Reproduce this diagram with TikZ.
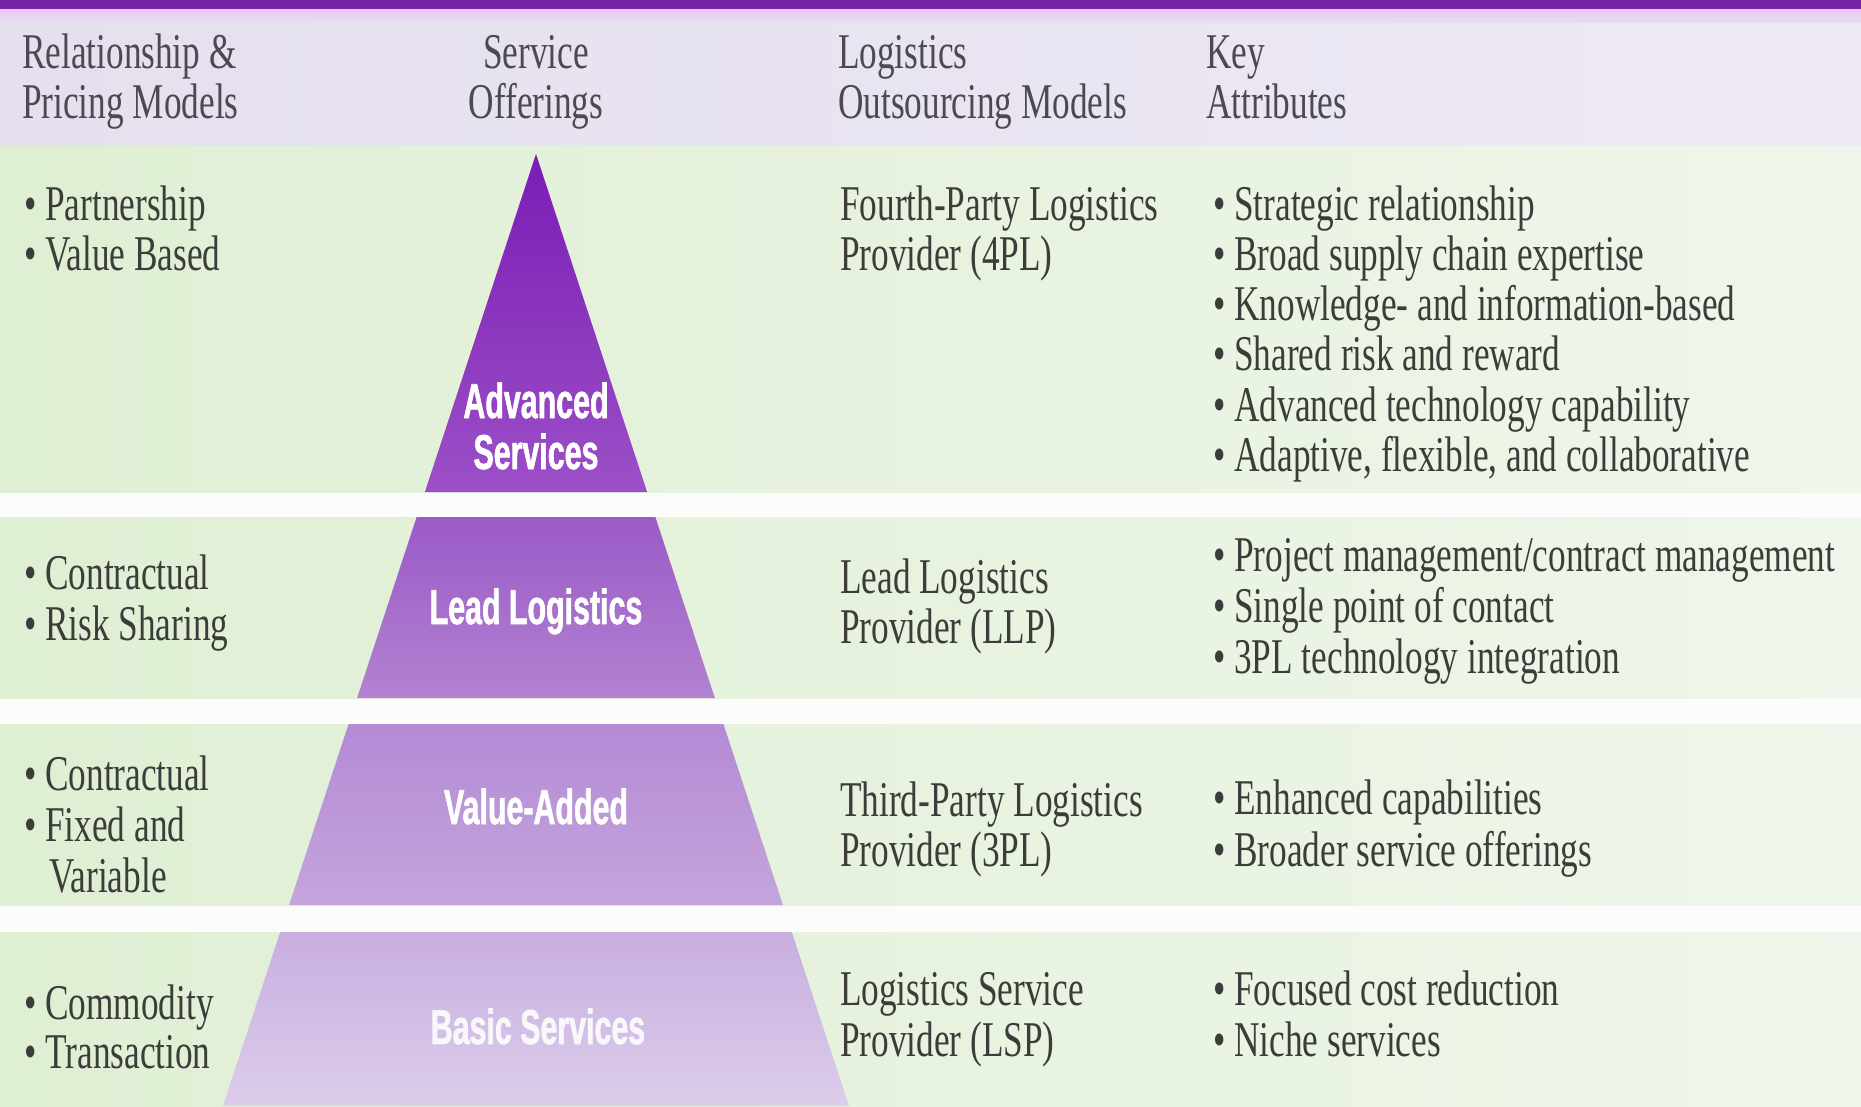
\documentclass[tikz,border=0pt]{standalone}
\usepackage{fontspec}
\setmainfont{Liberation Serif}
\newfontfamily\colfont[FakeStretch=0.705]{Liberation Serif}
\newfontfamily\tierfont[FakeStretch=0.62,FakeBold=1.2]{Liberation Sans}

\definecolor{barpurple}{HTML}{7722A8}
\definecolor{pinkline}{HTML}{EDC6F7}
\definecolor{headlav}{HTML}{E5DFEF}
\definecolor{headlavR}{HTML}{EEE9F4}
\definecolor{bandL}{HTML}{DFEFD3}
\definecolor{bandR}{HTML}{EFF6EB}
\definecolor{gapwhite}{HTML}{FCFDFA}
\definecolor{inkgray}{HTML}{3C3C3A}
\definecolor{headgray}{HTML}{4C4A50}
\definecolor{tierAtop}{HTML}{7B1CB5}
\definecolor{tierAbot}{HTML}{9C50C7}
\definecolor{tierBtop}{HTML}{9B5AC8}
\definecolor{tierBbot}{HTML}{B282D0}
\definecolor{tierCtop}{HTML}{B48AD5}
\definecolor{tierCbot}{HTML}{C4A5DB}
\definecolor{tierDtop}{HTML}{C8AEE0}
\definecolor{tierDbot}{HTML}{DCCDEA}

% one slice of the pyramid between two heights (apex at x=536, y=154)
\newcommand\pyrtier[4]{%
  \shade[top color=#3, bottom color=#4]
    ({536-0.3288*(#1-154)},#1) -- ({536+0.3288*(#1-154)},#1) --
    ({536+0.3288*(#2-154)},#2) -- ({536-0.3288*(#2-154)},#2) -- cycle;}

\begin{document}
\begin{tikzpicture}[x=1pt,y=-1pt,
  txt/.style={font=\colfont\fontsize{50}{50}\selectfont, text=inkgray,
    inner sep=0pt, anchor=base west},
  headtxt/.style={txt, text=headgray},
  tierlbl/.style={font=\tierfont\bfseries\fontsize{49}{49}\selectfont,
    text=white, inner sep=0pt, anchor=base}]

\useasboundingbox (0,0) rectangle (1861,1106);

% background, title bar and header band
\fill[gapwhite] (0,0) rectangle (1861,1106);
\shade[left color=headlav, right color=headlavR] (0,9) rectangle (1861,146);
\shade[top color=pinkline, bottom color=headlav] (0,9) rectangle (1861,22);
\fill[barpurple] (0,0) rectangle (1861,9);

% the four green rows
\shade[left color=bandL, right color=bandR] (0,146) rectangle (1861,492);
\shade[left color=bandL, right color=bandR] (0,517) rectangle (1861,698);
\shade[left color=bandL, right color=bandR] (0,724) rectangle (1861,905);
\shade[left color=bandL, right color=bandR] (0,932) rectangle (1861,1106);

% pyramid of service offerings
\pyrtier{154}{492}{tierAtop}{tierAbot}
\pyrtier{517}{698}{tierBtop}{tierBbot}
\pyrtier{724}{905}{tierCtop}{tierCbot}
\pyrtier{932}{1106}{tierDtop}{tierDbot}

% column headings
\node[headtxt] (h1a) at (22,68)  {Relationship \&};
\node[headtxt] (h1b) at (22,118) {Pricing Models};
\node[headtxt, anchor=base] (h2a) at (536,68)  {Service};
\node[headtxt, anchor=base] (h2b) at (536,118) {Offerings};
\node[headtxt] (h3a) at (838,68)  {Logistics};
\node[headtxt] (h3b) at (838,118) {Outsourcing Models};
\node[headtxt] (h4a) at (1206,68)  {Key};
\node[headtxt] (h4b) at (1206,118) {Attributes};

% tier labels
\node[tierlbl] (advA) at (536,418) {Advanced};
\node[tierlbl] (advB) at (536,469) {Services};
\node[tierlbl] (lead) at (536,624) {Lead Logistics};
\node[tierlbl] (vadd) at (536,824) {Value-Added};
\node[tierlbl, text=white!90!tierDtop] (basic) at (538,1044) {Basic Services};

% row 1: 4PL
\node[txt] (r1p1) at (24,220) {• Partnership};
\node[txt] (r1p2) at (24,270) {• Value Based};
\node[txt] (r1m1) at (840,220) {Fourth-Party Logistics};
\node[txt] (r1m2) at (840,270) {Provider (4PL)};
\node[txt] (r1k1) at (1213,220) {• Strategic relationship};
\node[txt] (r1k2) at (1213,270) {• Broad supply chain expertise};
\node[txt] (r1k3) at (1213,320) {• Knowledge- and information-based};
\node[txt] (r1k4) at (1213,370) {• Shared risk and reward};
\node[txt] (r1k5) at (1213,421) {• Advanced technology capability};
\node[txt] (r1k6) at (1213,471) {• Adaptive, flexible, and collaborative};

% row 2: LLP
\node[txt] (r2p1) at (24,589) {• Contractual};
\node[txt] (r2p2) at (24,640) {• Risk Sharing};
\node[txt] (r2m1) at (840,593) {Lead Logistics};
\node[txt] (r2m2) at (840,643) {Provider (LLP)};
\node[txt] (r2k1) at (1213,571) {• Project management/contract management};
\node[txt] (r2k2) at (1213,622) {• Single point of contact};
\node[txt] (r2k3) at (1213,673) {• 3PL technology integration};

% row 3: 3PL
\node[txt] (r3p1) at (24,790) {• Contractual};
\node[txt] (r3p2) at (24,841) {• Fixed and};
\node[txt] (r3p3) at (49,892) {Variable};
\node[txt] (r3m1) at (840,816) {Third-Party Logistics};
\node[txt] (r3m2) at (840,866) {Provider (3PL)};
\node[txt] (r3k1) at (1213,814) {• Enhanced capabilities};
\node[txt] (r3k2) at (1213,866) {• Broader service offerings};

% row 4: LSP
\node[txt] (r4p1) at (24,1019) {• Commodity};
\node[txt] (r4p2) at (24,1068) {• Transaction};
\node[txt] (r4m1) at (840,1005) {Logistics Service};
\node[txt] (r4m2) at (840,1056) {Provider (LSP)};
\node[txt] (r4k1) at (1213,1005) {• Focused cost reduction};
\node[txt] (r4k2) at (1213,1056) {• Niche services};
\end{tikzpicture}
\end{document}
